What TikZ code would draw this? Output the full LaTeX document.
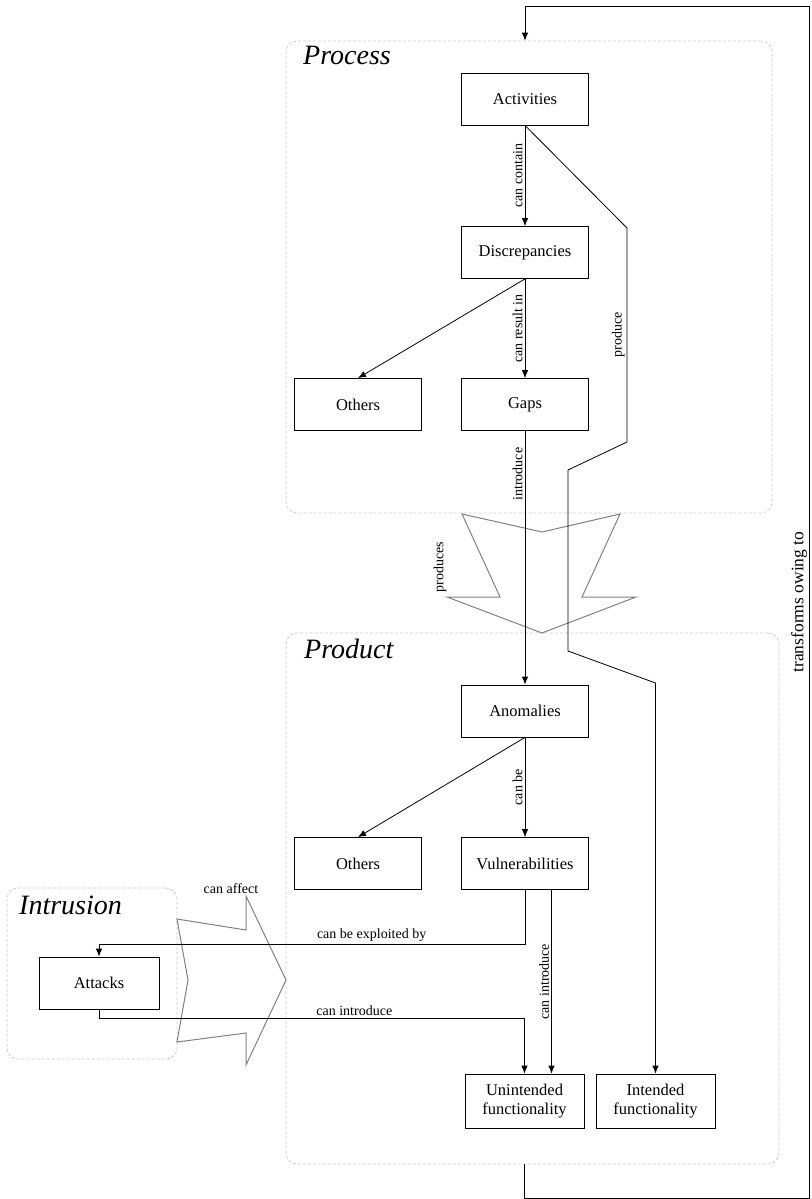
\documentclass[tikz,border=0pt]{standalone}
\usepackage{fontspec}
\setmainfont{Liberation Serif}
\usetikzlibrary{arrows.meta,calc}
\definecolor{groupgray}{RGB}{200,200,200}
\definecolor{chevgray}{RGB}{128,128,128}
\tikzset{
  box/.style={draw,line width=0.8pt,minimum width=127pt,minimum height=52pt,inner sep=2pt,
    font=\fontsize{16.5}{19.5}\selectfont},
  funcbox/.style={box,minimum width=119pt,minimum height=54pt,align=center},
  groupbox/.style={draw=groupgray,line width=0.7pt,dash pattern=on 3pt off 2pt,rounded corners=11pt},
  grouptitle/.style={anchor=base west,inner sep=0pt,font=\fontsize{28}{32}\selectfont\itshape},
  link/.style={draw,line width=0.8pt,-{Latex[length=8pt,width=6.5pt]}},
  lbl/.style={inner sep=2pt,font=\fontsize{14}{16}\selectfont},
  vlbl/.style={lbl,rotate=90,anchor=south},
  chevron/.style={draw=chevgray,line width=1pt,line join=miter}
}
\begin{document}
\begin{tikzpicture}[x=1pt,y=-1pt]
  \useasboundingbox (0,0) rectangle (811,1199);
  % groups
  \node[groupbox,minimum width=486pt,minimum height=472pt] (procbox) at (529,277) {};
  \node[groupbox,minimum width=493pt,minimum height=531pt] (prodbox) at (532.5,898.5) {};
  \node[groupbox,minimum width=170pt,minimum height=171pt] (intrbox) at (92,973.5) {};
  \node[grouptitle] (proctitle) at (303,65) {Process};
  \node[grouptitle] (prodtitle) at (304,658) {Product};
  \node[grouptitle] (intrtitle) at (19,914) {Intrusion};

  % big grey arrows
  \draw[chevron] (462,514) -- (542,532) -- (620,514) -- (582,597) -- (636,597)
    -- (542,633) -- (447,597) -- (500,597) -- cycle;
  \node[lbl,rotate=90] (prodlbl) at (440,567) {produces};
  \draw[chevron] (177,919) -- (246,930) -- (246,896) -- (286,980) -- (246,1065)
    -- (246,1033) -- (177,1042) -- (188,980) -- cycle;
  \node[lbl] (afflbl) at (231,889) {can affect};

  % process
  \node[box] (act) at (525,99) {Activities};
  \node[box] (disc) at (525,252.5) {Discrepancies};
  \node[box] (othA) at (358,404.5) {Others};
  \node[box] (gaps) at (525,404.5) {Gaps};
  % product
  \node[box] (anom) at (525,711) {Anomalies};
  \node[box] (othB) at (358,863.5) {Others};
  \node[box] (vuln) at (525,863.5) {Vulnerabilities};
  \node[funcbox] (unint) at (524.5,1101) {Unintended\\functionality};
  \node[funcbox] (inten) at (655.5,1101) {Intended\\functionality};
  % intrusion
  \node[box,minimum width=120pt] (atk) at (99,983) {Attacks};

  \draw[link] (act) -- (disc) node[midway,vlbl] {can contain};
  \draw[link] (disc.south) -- (othA.north);
  \draw[link] (disc) -- (gaps) node[midway,vlbl] {can result in};
  \draw[link] (gaps) -- (anom) node[pos=0.17,vlbl] {introduce};
  \draw[link] (act.south) -- (627,228) -- (627,442) node[midway,vlbl] {produce}
    -- (568,470) -- (568,651) -- (655.5,683) -- (inten.north);
  \draw[link] (anom.south) -- (othB.north);
  \draw[link] (anom) -- (vuln) node[midway,vlbl] {can be};
  \draw[link] (vuln.south) -- ++(0,54) -| (atk.north)
    node[pos=0.18,lbl,above] {can be exploited by};
  \coordinate (vulnR) at ($(vuln.south)+(26.5,0)$);
  \draw[link] (vulnR) -- (vulnR |- unint.north) node[midway,vlbl] {can introduce};
  \draw[link] (atk.south) -- ++(0,9) -| (unint.north)
    node[pos=0.3,lbl,above] {can introduce};

  % loop back to the process
  \coordinate (loopbot) at (809.5,1198);
  \coordinate (looptop) at (809.5,6);
  \draw[link] (unint.north |- prodbox.south) |- (loopbot) -- (looptop)
    node[midway,vlbl,font=\fontsize{17.5}{20}\selectfont] {transforms owing to}
    -| (act.north |- procbox.north);
\end{tikzpicture}
\end{document}
